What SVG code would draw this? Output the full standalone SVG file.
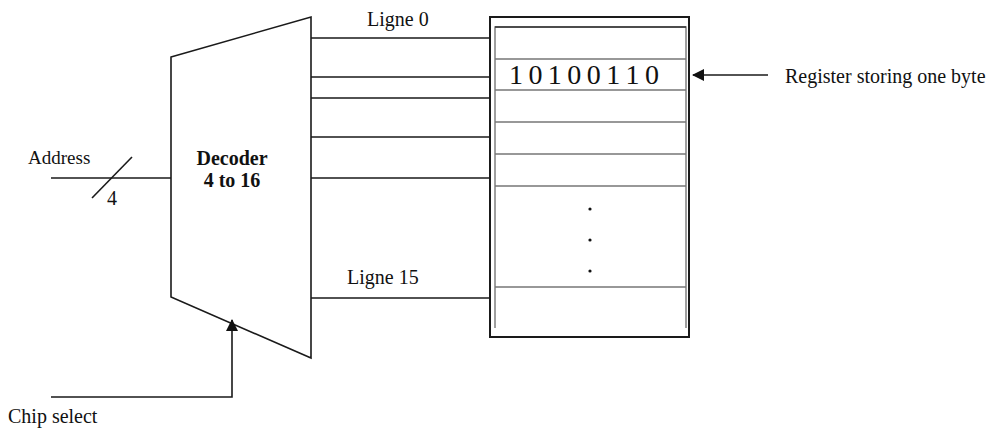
<svg xmlns="http://www.w3.org/2000/svg" width="987" height="431" viewBox="0 0 987 431">
<defs>
<style>
.t{font-family:"Liberation Serif","Times New Roman",serif;fill:#111}
.b{font-weight:bold}
.ln{stroke:#1a1a1a;stroke-width:1.6;fill:none}
.g{stroke:#777;stroke-width:1.4;fill:none}
</style>
<marker id="ah" markerWidth="12" markerHeight="12" refX="11" refY="6" orient="auto" markerUnits="userSpaceOnUse">
<path d="M0,0 L12,6 L0,12 Z" fill="#111"/>
</marker>
</defs>
<rect width="987" height="431" fill="#fff"/>
<g id="decoder">
<path class="ln" d="M171,57 L311,17 L311,358 L171,297 Z"/>
<text class="t b" x="232" y="165" font-size="20" text-anchor="middle">Decoder</text>
<text class="t b" x="232" y="187" font-size="20" text-anchor="middle">4 to 16</text>
</g>
<g id="register">
<rect x="490" y="17" width="199" height="320" fill="none" stroke="#1a1a1a" stroke-width="2"/>
<path class="g" d="M495,328 L495,27 L686,27 L686,328"/>
<line x1="495" y1="27" x2="686" y2="27" stroke="#333" stroke-width="1.6"/>
<path class="g" d="M495,59 H686 M495,90 H686 M495,122 H686 M495,154 H686 M495,186 H686 M495,287 H686"/>
<text class="t" x="509" y="84" font-size="28" textLength="150" lengthAdjust="spacing">1 0 1 0 0 1 1 0</text>
<circle cx="590" cy="209" r="1.6" fill="#111"/>
<circle cx="590" cy="240" r="1.6" fill="#111"/>
<circle cx="590" cy="271" r="1.6" fill="#111"/>
</g>
<g id="labels">
<text class="t" x="367" y="26" font-size="20">Ligne 0</text>
<text class="t" x="347" y="284" font-size="20">Ligne 15</text>
<text class="t" x="785" y="83" font-size="20">Register storing one byte</text>
<text class="t" x="28" y="164" font-size="19">Address</text>
<text class="t" x="107" y="205" font-size="20">4</text>
<text class="t" x="8" y="423" font-size="20">Chip select</text>
</g>
<g id="connectors">
<path class="ln" d="M311,38 H490 M311,77 H490 M311,98 H490 M311,137 H490 M311,178 H490 M311,298 H490"/>
<line class="ln" x1="51" y1="178" x2="171" y2="178"/>
<line class="ln" x1="92" y1="198" x2="132" y2="157"/>
<path class="ln" d="M51,397 H232 V320" marker-end="url(#ah)"/>
<line class="ln" x1="768" y1="75" x2="693" y2="75" marker-end="url(#ah)"/>
</g>
</svg>
